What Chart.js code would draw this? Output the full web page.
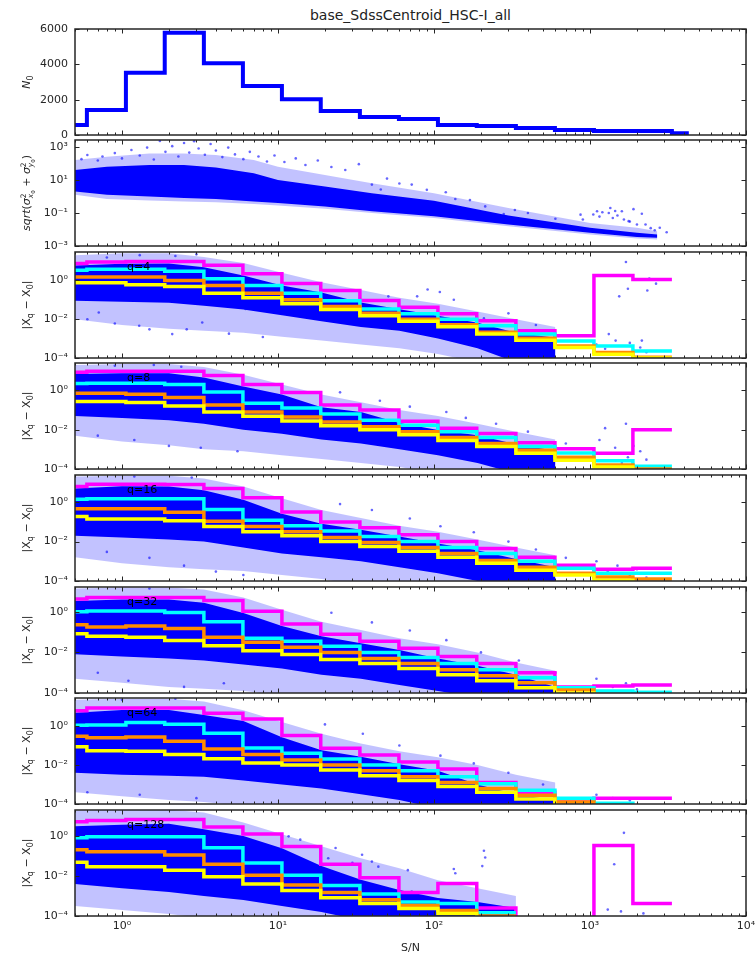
<!DOCTYPE html>
<html>
<head>
<meta charset="utf-8">
<title>base_SdssCentroid_HSC-I_all</title>
<script src="https://cdn.jsdelivr.net/npm/chart.js@4.4.1/dist/chart.umd.min.js"></script>
<style>
  html,body{margin:0;padding:0;background:#fff;}
  #wrap{position:relative;width:756px;height:960px;overflow:hidden;background:#fff;}
  #wrap canvas{position:absolute;left:0;}
  #title{position:absolute;left:75px;width:671px;top:6px;line-height:18px;text-align:center;
         font-family:"DejaVu Sans",sans-serif;font-size:14px;color:#222;}
</style>
</head>
<body>
<div id="wrap"><div id="title">base_SdssCentroid_HSC-I_all</div></div>
<script>
// ===================== DATA =====================
// shared x axis (S/N)
const xTickValues = [1, 10, 100, 1000, 10000];
const xTickLabels = ['10⁰', '10¹', '10²', '10³', '10⁴'];

// panel 1 : N0 histogram
const histEdges = [0.5, 0.596, 1.06, 1.88, 3.35, 5.96, 10.6, 18.8, 33.5, 59.6, 106, 188, 335, 596, 1060, 1884, 3350, 4300];
const N0 = [570, 1410, 3530, 5790, 4060, 2770, 2020, 1360, 1020, 910, 570, 510, 400, 280, 230, 230, 95];
const nTickValues = [0, 2000, 4000, 6000];
const nTickLabels = ['0', '2000', '4000', '6000'];

// panel 2 : sqrt(sigma_x0^2 + sigma_y0^2) cloud
const sigTickValues = [1e-3, 1e-1, 1e1, 1e3];
const sigTickLabels = ['10⁻³', '10⁻¹', '10¹', '10³'];
const sigBandX  = [0.5, 0.8, 1.5, 2.5, 4, 7, 10, 20, 40, 100, 300, 1000, 2000, 2700];
const sigCoreHi = [40, 63, 79, 79, 56, 25, 10, 4.0, 1.58, 0.54, 0.071, 0.0126, 6.3e-3, 5.0e-3];
const sigCoreLo = [2.0, 1.26, 1.0, 0.79, 0.71, 0.50, 0.40, 0.25, 0.126, 0.063, 0.020, 6.3e-3, 3.5e-3, 3.2e-3];
const sigHaloHi = [158, 251, 398, 398, 316, 158, 63, 20, 6.3, 1.58, 0.20, 0.025, 0.0126, 7.9e-3];
const sigHaloLo = [1.26, 0.71, 0.56, 0.50, 0.45, 0.35, 0.28, 0.178, 0.10, 0.050, 0.0158, 5.0e-3, 2.8e-3, 2.5e-3];
const sigPoints = [[0.55,180],[0.6,320],[0.7,150],[0.75,260],[0.9,420],[1.0,200],[1.15,650],[1.3,300],[1.45,900],[1.6,170],
  [1.75,2300],[1.9,500],[2.1,1100],[2.3,260],[2.5,1700],[2.7,450],[2.9,2200],[3.1,800],[3.4,330],[3.7,1500],[4.0,600],
  [4.4,240],[4.8,900],[5.3,350],[6.0,180],[6.6,500],[7.5,260],[8.5,130],[9.5,300],[11,120],[13,200],[15,80],[18,150],
  [22,60],[27,40],[33,90],[40,5.2],[45.6,2.6],[50,12],[60,6],[72,5.2],[90,2.5],[119,1.8],[137,0.7],[170,0.6],[213,0.25],
  [280,0.087],[330,0.15],[400,0.1],[600,0.045],[870,0.079],[900,0.04],[1050,0.08],[1110,0.126],[1150,0.06],[1200,0.11],
  [1320,0.1],[1350,0.2],[1400,0.05],[1450,0.13],[1500,0.07],[1600,0.126],[1650,0.04],[1770,0.032],[1800,0.03],
  [1900,0.17],[2000,0.02],[2150,0.09],[2270,0.02],[2450,0.012],[2600,0.009],[2800,0.0126],[3100,6.8e-3]];
const sigYMax = 2600;

// panels 3-8 : |Xq - X0|
const qTickValues = [1e-4, 1e-2, 1];
const qTickLabels = ['10⁻⁴', '10⁻²', '10⁰'];
const qLabels = ['q=4', 'q=8', 'q=16', 'q=32', 'q=64', 'q=128'];
const qYMax = [29, 25, 24, 16.6, 27, 21];
const binEdges = [0.5, 0.596, 1.06, 1.88, 3.35, 5.96, 10.6, 18.8, 33.5, 59.6, 106, 188, 335, 596, 1060, 1884, 3350];
const qBandX = [0.5, 1, 2, 3.35, 6, 10.6, 19, 34, 60, 106, 190, 335, 600];

// q = 4
const q4Magenta = [7.4, 8.9, 9.3, 9.3, 6.0, 2.2, 0.69, 0.30, 0.091, 0.041, 0.019, 8.3e-3, 2.5e-3, 1.4e-3, 1.8, 1.1];
const q4Cyan    = [3.3, 3.7, 3.7, 2.95, 1.23, 0.55, 0.22, 0.089, 0.034, 0.019, 0.010, 4.6e-3, 1.7e-3, 7.6e-4, 4.2e-4, 2.3e-4];
const q4Orange  = [1.48, 1.48, 1.48, 1.0, 0.55, 0.22, 0.10, 0.045, 0.020, 0.010, 5.1e-3, 2.1e-3, 1.05e-3, 4.2e-4, 1.9e-4, 1.1e-4];
const q4Yellow  = [0.76, 0.76, 0.60, 0.49, 0.22, 0.126, 0.063, 0.032, 0.015, 7.8e-3, 4.1e-3, 1.7e-3, 8.3e-4, 3.5e-4, 1.55e-4, 1.0e-4];
const q4CoreHi  = [5.9, 7.1, 7.4, 4.8, 1.8, 0.55, 0.24, 0.073, 0.033, 0.015, 6.6e-3, 2.0e-3, 1.1e-3];
const q4CoreLo  = [0.09, 0.08, 0.07, 0.050, 0.032, 0.016, 7.9e-3, 4.0e-3, 2.5e-3, 1.0e-3, 3.2e-4, 6e-5, 6e-5];
const q4HaloHi  = [20, 25, 25, 15.8, 7.9, 2.5, 0.79, 0.32, 0.126, 0.063, 0.025, 0.010, 4.0e-3];
const q4HaloLo  = [0.010, 5.0e-3, 3.2e-3, 2.5e-3, 2.0e-3, 1.26e-3, 7.9e-4, 5.0e-4, 3.2e-4, 1.6e-4, 6e-5, 6e-5, 6e-5];
const q4Points  = [[0.6,0.01],[0.71,0.022],[0.9,6e-3],[1.29,4.6e-3],[1.5,3e-3],[2.1,1.7e-3],[2.6,3e-3],[3.27,6.8e-3],
  [4.85,1.8e-3],[6.2,0.034],[8,1.2e-3],[0.8,15],[1.3,20],[2.2,18],[3.0,22],[51,0.15],[78,0.15],[91,0.34],[109,0.25],
  [134,0.10],[209,0.011],[300,0.02],[450,5e-3],[700,1.5e-3],[1100,5e-4],[1250,3e-4],[1320,1.7e-3],[1460,7.9e-4],
  [1540,0.15],[1600,1.5e-4],[1700,8.9],[1750,0.37],[1800,6e-4],[2100,3.5e-4],[2150,7.9e-4],[2300,2e-4],[2330,0.30],
  [2400,1.26],[2650,0.68]];

// q = 8
const q8Magenta = [8.5, 9.5, 9.5, 9.5, 5.8, 2.0, 0.79, 0.18, 0.10, 0.027, 0.012, 6.5e-3, 2.2e-3, 1.07e-3, 6.3e-4, 0.010];
const q8Cyan    = [2.24, 2.3, 2.3, 2.0, 0.83, 0.22, 0.126, 0.063, 0.030, 0.017, 7.9e-3, 4.0e-3, 1.4e-3, 6.6e-4, 2.6e-4, 1.4e-4];
const q8Orange  = [0.72, 0.72, 0.65, 0.44, 0.18, 0.081, 0.045, 0.025, 0.014, 7.9e-3, 4.0e-3, 2.0e-3, 8.9e-4, 4.0e-4, 1.6e-4, 1.0e-4];
const q8Yellow  = [0.27, 0.27, 0.24, 0.16, 0.081, 0.049, 0.028, 0.016, 0.010, 5.6e-3, 2.8e-3, 1.4e-3, 6.3e-4, 2.8e-4, 1.26e-4, 8e-5];
const q8CoreHi  = [6.8, 7.6, 7.6, 4.6, 1.6, 0.63, 0.14, 0.08, 0.022, 9.6e-3, 5.2e-3, 1.8e-3, 8.6e-4];
const q8CoreLo  = [0.05, 0.04, 0.03, 0.020, 0.010, 6.3e-3, 3.2e-3, 2.0e-3, 1.0e-3, 5.0e-4, 2.0e-4, 6e-5, 6e-5];
const q8HaloHi  = [20, 22, 22, 15.8, 6.3, 2.0, 0.63, 0.25, 0.10, 0.050, 0.020, 7.9e-3, 3.2e-3];
const q8HaloLo  = [5.0e-3, 2.5e-3, 1.6e-3, 1.0e-3, 7.9e-4, 5.0e-4, 3.2e-4, 2.0e-4, 1.26e-4, 6e-5, 6e-5, 6e-5, 6e-5];
const q8Points  = [[0.7,5e-3],[1.2,3e-3],[2.0,1.5e-3],[3.2,1.2e-3],[5.5,8e-4],[0.9,18],[1.6,20],[2.4,16],[25,0.8],
  [45,0.3],[70,0.15],[120,0.08],[160,0.04],[250,0.02],[400,8e-3],[700,2e-3],[1150,3e-3],[1250,0.012],[1300,6e-4],
  [1450,1.2e-3],[1600,2e-4],[1700,0.02],[1750,4e-4],[1900,1.5e-3],[2100,8e-4],[2300,3e-4]];

// q = 16
const q16Magenta = [6.2, 8.1, 8.1, 7.9, 5.0, 1.66, 0.32, 0.10, 0.050, 0.022, 0.010, 4.5e-3, 1.6e-3, 6.3e-4, 4.0e-4, 4.5e-4];
const q16Cyan    = [1.41, 1.48, 1.48, 1.48, 0.43, 0.12, 0.063, 0.035, 0.018, 0.010, 5.0e-3, 2.5e-3, 1.0e-3, 4.5e-4, 2.5e-4, 2.5e-4];
const q16Orange  = [0.46, 0.46, 0.46, 0.31, 0.107, 0.059, 0.032, 0.016, 8.9e-3, 5.0e-3, 2.5e-3, 1.1e-3, 5.0e-4, 2.5e-4, 1.6e-4, 1.26e-4];
const q16Yellow  = [0.19, 0.141, 0.141, 0.115, 0.059, 0.032, 0.020, 0.010, 5.6e-3, 3.2e-3, 1.6e-3, 7.9e-4, 3.5e-4, 2.0e-4, 1.1e-4, 8e-5];
const q16CoreHi  = [5.0, 6.5, 6.3, 4.0, 1.33, 0.26, 0.08, 0.04, 0.018, 8e-3, 3.6e-3, 1.3e-3, 5e-4];
const q16CoreLo  = [0.02, 0.016, 0.0126, 0.010, 5.0e-3, 2.5e-3, 1.6e-3, 1.0e-3, 5.0e-4, 2.5e-4, 1.0e-4, 6e-5, 6e-5];
const q16HaloHi  = [20, 22, 22, 15.8, 6.3, 1.58, 0.40, 0.158, 0.063, 0.032, 0.0126, 5.0e-3, 2.0e-3];
const q16HaloLo  = [1.6e-3, 7.9e-4, 5.0e-4, 4.0e-4, 3.2e-4, 2.0e-4, 1.26e-4, 6e-5, 6e-5, 6e-5, 6e-5, 6e-5, 6e-5];
const q16Points  = [[0.8,3e-3],[1.5,1.5e-3],[2.5,6e-4],[4,3e-4],[6,2e-4],[1.2,20],[2.8,18],[25,0.8],[40,0.4],[70,0.15],
  [110,0.06],[180,0.03],[300,0.01],[450,4e-3],[700,1.5e-3],[1100,1e-3],[1300,3e-4],[1500,6e-4],[1800,2e-4],[2000,4e-4],[2300,1.5e-4]];

// q = 32
const q32Magenta = [4.3, 5.0, 5.0, 5.0, 3.55, 1.07, 0.25, 0.079, 0.035, 0.016, 6.3e-3, 2.8e-3, 1.0e-3, 2.0e-4, 2.2e-4, 2.5e-4];
const q32Cyan    = [1.0, 1.1, 1.1, 0.93, 0.32, 0.050, 0.035, 0.020, 0.010, 5.6e-3, 2.8e-3, 1.4e-3, 5.6e-4, 1.8e-4, 1.26e-4, 1.1e-4];
const q32Orange  = [0.23, 0.18, 0.20, 0.148, 0.056, 0.032, 0.018, 0.010, 5.0e-3, 2.8e-3, 1.4e-3, 7.1e-4, 3.2e-4, 1.4e-4, 8e-5, 6e-5];
const q32Yellow  = [0.083, 0.063, 0.056, 0.038, 0.021, 0.012, 7.9e-3, 4.5e-3, 2.8e-3, 1.6e-3, 7.9e-4, 4.0e-4, 1.8e-4, 1.0e-4, 6e-5, 5e-5];
const q32CoreHi  = [3.4, 4.0, 4.0, 2.8, 0.86, 0.2, 0.063, 0.028, 0.013, 5e-3, 2.2e-3, 8e-4, 2e-4];
const q32CoreLo  = [0.008, 6.3e-3, 5.0e-3, 4.0e-3, 2.5e-3, 1.6e-3, 7.9e-4, 5.0e-4, 2.5e-4, 1.26e-4, 6e-5, 6e-5, 6e-5];
const q32HaloHi  = [14, 15.8, 15.8, 12.6, 5.0, 1.26, 0.32, 0.126, 0.050, 0.025, 0.010, 3.2e-3, 1.26e-3];
const q32HaloLo  = [5.0e-4, 3.2e-4, 2.0e-4, 1.6e-4, 1.26e-4, 7.9e-5, 6e-5, 6e-5, 6e-5, 6e-5, 6e-5, 6e-5, 6e-5];
const q32Points  = [[0.7,1e-3],[1.1,4e-4],[2.5,2e-4],[4.5,3e-4],[1.5,14],[22,0.9],[40,0.3],[70,0.12],[120,0.04],
  [200,0.01],[350,4e-3],[600,1e-3],[1100,5e-4],[1400,2e-4],[1700,3e-4],[2000,1.5e-4]];

// q = 64
const q64Magenta = [6.0, 8.3, 8.3, 8.3, 4.5, 2.24, 0.32, 0.071, 0.032, 0.014, 6.3e-3, 1.26e-3, 4.0e-4, 1.8e-4, 2.0e-4, 2.0e-4];
const q64Cyan    = [1.1, 1.12, 1.5, 1.23, 0.42, 0.074, 0.040, 0.020, 0.010, 5.0e-3, 2.5e-3, 1.1e-3, 5.0e-4, 2.0e-4, 1.1e-4, 8e-5];
const q64Orange  = [0.30, 0.25, 0.27, 0.166, 0.066, 0.034, 0.018, 0.010, 5.0e-3, 2.5e-3, 1.26e-3, 6.3e-4, 2.8e-4, 1.26e-4, 6e-5, 5e-5];
const q64Yellow  = [0.085, 0.054, 0.050, 0.034, 0.021, 0.0126, 0.010, 5.6e-3, 2.8e-3, 1.6e-3, 7.9e-4, 4.0e-4, 1.8e-4, 8e-5, 5e-5, 4e-5];
const q64CoreHi  = [4.8, 6.6, 6.6, 3.6, 1.8, 0.26, 0.057, 0.026, 0.011, 5e-3, 1.0e-3, 3.2e-4, 1.5e-4];
const q64CoreLo  = [4.0e-3, 3.2e-3, 2.8e-3, 2.5e-3, 1.6e-3, 1.0e-3, 6.3e-4, 3.2e-4, 1.6e-4, 6e-5, 6e-5, 6e-5, 6e-5];
const q64HaloHi  = [22, 25, 25, 17.8, 6.3, 1.58, 0.40, 0.126, 0.050, 0.025, 0.010, 3.2e-3, 1.26e-3];
const q64HaloLo  = [4.0e-4, 2.5e-4, 1.6e-4, 1.26e-4, 7.9e-5, 6e-5, 6e-5, 6e-5, 6e-5, 6e-5, 6e-5, 6e-5, 6e-5];
const q64Points  = [[0.6,4e-4],[1.3,3e-4],[3,2e-4],[1.0,22],[2.2,25],[20,1.2],[35,0.4],[60,0.1],[110,0.03],[180,0.012],
  [300,4e-3],[500,1e-3],[1100,3e-4],[1400,2e-4],[1800,1.5e-4]];

// q = 128  (0 = empty bin, falls below the log axis)
const q128Magenta = [5.4, 6.3, 7.1, 7.1, 2.9, 1.32, 0.31, 0.040, 8.3e-3, 1.5e-3, 4.3e-3, 2.5e-4, 0, 0, 0.35, 4.2e-4];
const q128Cyan    = [0.85, 0.95, 0.95, 0.95, 0.27, 0.046, 0.011, 3.4e-3, 1.26e-3, 5.0e-4, 4.2e-4, 1.45e-4];
const q128Orange  = [0.21, 0.17, 0.17, 0.117, 0.040, 0.011, 3.6e-3, 1.5e-3, 6.6e-4, 3.4e-4, 1.9e-4, 1.0e-4];
const q128Yellow  = [0.050, 0.030, 0.030, 0.020, 9.3e-3, 4.0e-3, 1.9e-3, 8.3e-4, 4.3e-4, 2.4e-4, 1.35e-4, 8e-5];
const q128CoreHi  = [3.2, 3.8, 4.3, 2.3, 1.05, 0.25, 0.032, 6.6e-3, 2.0e-3, 8e-4, 5.0e-4, 2.5e-4];
const q128CoreLo  = [4.0e-3, 2.5e-3, 1.6e-3, 1.0e-3, 6.3e-4, 3.2e-4, 1.6e-4, 6e-5, 6e-5, 6e-5, 6e-5, 6e-5];
const q128HaloHi  = [20, 22, 22, 15.8, 5.0, 1.26, 0.32, 0.079, 0.025, 6.3e-3, 2.5e-3, 1.0e-3];
const q128HaloLo  = [3.2e-4, 2.0e-4, 1.26e-4, 7.9e-5, 6e-5, 6e-5, 6e-5, 6e-5, 6e-5, 6e-5, 6e-5, 6e-5];
const q128Points  = [[11.7,1.0],[13.9,0.68],[21,0.08],[23.4,0.26],[30,0.047],[34.6,0.118],[40,0.054],[44,0.030],
  [68,0.020],[72,1.7e-3],[134,0.023],[137,0.014],[204,0.032],[209,0.19],[213,0.087],[1300,2.1e-4],[1430,0.04],
  [1580,1.7e-4],[1650,1.5],[2200,1.35e-4]];

// ===================== STYLE / LAYOUT =====================
const FONT = '"DejaVu Sans", sans-serif';
const INK = '#262626';
const CORE = '#0000ff';
const HALO = 'rgba(0,0,255,0.24)';
const PT = 'rgba(0,0,255,0.6)';
const MAGENTA = '#ff00ff', CYAN = '#00ffff', ORANGE = '#ff8c00', YELLOW = '#ffff00';
const panelTops = [29, 140, 252, 363, 475, 587, 698, 810];
const PANEL_H = 106;
const PAD = 12;
const wrap = document.getElementById('wrap');

// x minor tick positions (axis decoration)
const xMinor = [];
[0.1, 1, 10, 100, 1000].forEach(d => { for (let m = 2; m <= 9; m++) { const v = m * d; if (v >= 0.5 && v < 10000) xMinor.push(v); } });

// ===================== HELPERS =====================
const toXY = (xs, ys) => ys.map((y, i) => ({x: xs[i], y}));
const pairs = arr => arr.map(p => ({x: p[0], y: p[1]}));
const FLOOR = 1e-9;
function stepXY(edges, vals) {
  const pts = vals.map((v, i) => ({x: edges[i], y: v > 0 ? v : FLOOR}));
  const lastV = vals[vals.length - 1];
  pts.push({x: edges[vals.length], y: lastV > 0 ? lastV : FLOOR});
  return pts;
}
const NONE = 'rgba(0,0,0,0)';
function bandHi(xs, ys, color, order) {
  return {type: 'line', data: toXY(xs, ys), fill: '+1', backgroundColor: color, borderColor: NONE,
          borderWidth: 0, pointRadius: 0, order, clip: 0};
}
function bandLo(xs, ys, order) {
  return {type: 'line', data: toXY(xs, ys), fill: false, borderColor: NONE, borderWidth: 0, pointRadius: 0, order, clip: 0};
}
function scatterSet(arr, order) {
  return {type: 'scatter', data: pairs(arr), pointRadius: 1.3, backgroundColor: PT, borderWidth: 0, order, clip: 0};
}
function stepSet(edges, vals, color, width, order) {
  return {type: 'line', data: stepXY(edges, vals), stepped: true, borderColor: color, borderWidth: width,
          pointRadius: 0, fill: false, order, clip: 0, borderJoinStyle: 'miter', borderCapStyle: 'butt'};
}

function drawRich(ctx, cx, cy, pieces) {
  const lay = []; let x = 0, mark = 0, maxX = 0;
  for (const p of pieces) {
    if (p.mark) { mark = x; maxX = x; continue; }
    if (p.ret) { maxX = Math.max(maxX, x); x = mark; continue; }
    if (p.fin) { x = Math.max(maxX, x); continue; }
    const font = (p.it ? 'italic ' : '') + p.s + 'px ' + FONT;
    ctx.font = font;
    lay.push({t: p.t, x, font, dy: p.dy || 0});
    x += ctx.measureText(p.t).width;
  }
  ctx.save();
  ctx.translate(cx, cy); ctx.rotate(-Math.PI / 2);
  ctx.fillStyle = INK; ctx.textAlign = 'left'; ctx.textBaseline = 'alphabetic';
  for (const l of lay) { ctx.font = l.font; ctx.fillText(l.t, l.x - x / 2, 4 + l.dy); }
  ctx.restore();
}

const titleN0 = [{t: 'N', it: 1, s: 11}, {t: '0', s: 8, dy: 2.5}];
const titleSig = [{t: 'sqrt', it: 1, s: 11}, {t: '(', s: 11}, {t: 'σ', it: 1, s: 11},
  {mark: 1}, {t: '2', s: 7.5, dy: -4.5}, {ret: 1}, {t: 'x', it: 1, s: 7.5, dy: 3}, {t: '0', s: 5.5, dy: 4.5}, {fin: 1},
  {t: ' + ', s: 11}, {t: 'σ', it: 1, s: 11},
  {mark: 1}, {t: '2', s: 7.5, dy: -4.5}, {ret: 1}, {t: 'y', it: 1, s: 7.5, dy: 3}, {t: '0', s: 5.5, dy: 4.5}, {fin: 1},
  {t: ')', s: 11}];
const titleQ = [{t: '|X', s: 11}, {t: 'q', s: 8, dy: 2.5}, {t: ' − X', s: 11}, {t: '0', s: 8, dy: 2.5}, {t: '|', s: 11}];

function decoPlugin(deco, last) {
  return {
    id: 'deco',
    afterDatasetsDraw(chart) {
      const {ctx, chartArea: a} = chart;
      const xs = chart.scales.x, ys = chart.scales.y;
      ctx.save();
      ctx.strokeStyle = INK; ctx.lineWidth = 1;
      ctx.beginPath();
      const tick = (v, L) => {
        const px = Math.round(xs.getPixelForValue(v)) + 0.5;
        ctx.moveTo(px, a.bottom); ctx.lineTo(px, a.bottom - L);
        ctx.moveTo(px, a.top); ctx.lineTo(px, a.top + L);
      };
      xTickValues.forEach(v => tick(v, 4.5));
      xMinor.forEach(v => tick(v, 2.5));
      deco.yTicks.forEach(v => {
        const py = Math.round(ys.getPixelForValue(v)) + 0.5;
        ctx.moveTo(a.left, py); ctx.lineTo(a.left + 4.5, py);
        ctx.moveTo(a.right, py); ctx.lineTo(a.right - 4.5, py);
      });
      ctx.stroke();
      ctx.lineWidth = 1.5;
      ctx.strokeRect(a.left, a.top, a.right - a.left, a.bottom - a.top);
      if (deco.q) {
        ctx.fillStyle = '#000'; ctx.font = '11px ' + FONT;
        ctx.textAlign = 'left'; ctx.textBaseline = 'middle';
        ctx.fillText(deco.q, a.left + 52, a.top + 15);
      }
      drawRich(ctx, 26, (a.top + a.bottom) / 2, deco.title);
      if (last) {
        ctx.fillStyle = INK; ctx.font = '11px ' + FONT;
        ctx.textAlign = 'center'; ctx.textBaseline = 'middle';
        ctx.fillText('S/N', (a.left + a.right) / 2, a.bottom + 32);
      }
      ctx.restore();
    }
  };
}

function xScaleCfg(show) {
  return {
    type: 'logarithmic', min: 0.5, max: 10000, display: show,
    afterBuildTicks: ax => { ax.ticks = xTickValues.map(v => ({value: v})); },
    ticks: {callback: v => xTickLabels[xTickValues.indexOf(v)], font: {family: FONT, size: 11}, color: INK,
            padding: 4, maxRotation: 0, autoSkip: false},
    grid: {display: false, drawTicks: false}, border: {display: false},
    afterFit: ax => { ax.height = show ? 44 : 0; ax.paddingLeft = 0; ax.paddingRight = 0; }
  };
}
function yScaleCfg(type, min, max, vals, labels) {
  return {
    type, min, max,
    afterBuildTicks: ax => { ax.ticks = vals.map(v => ({value: v})); },
    ticks: {callback: v => labels[vals.indexOf(v)], font: {family: FONT, size: 11}, color: INK, padding: 7, autoSkip: false},
    grid: {display: false, drawTicks: false}, border: {display: false},
    afterFit: ax => { ax.width = 75; ax.paddingTop = 0; ax.paddingBottom = 0; }
  };
}

function makePanel(idx, datasets, yCfg, deco) {
  const last = idx === panelTops.length - 1;
  const top = panelTops[idx] - PAD;
  const h = last ? 960 - top : PANEL_H + 2 * PAD;
  const cv = document.createElement('canvas');
  cv.width = 756; cv.height = h;
  cv.style.top = top + 'px'; cv.style.width = '756px'; cv.style.height = h + 'px';
  wrap.appendChild(cv);
  return new Chart(cv, {
    type: 'line',
    data: {datasets},
    options: {
      responsive: false, animation: false, devicePixelRatio: 1, events: [],
      layout: {padding: {top: PAD, bottom: last ? 0 : PAD, left: 0, right: 10}},
      plugins: {legend: {display: false}, tooltip: {enabled: false}},
      elements: {line: {tension: 0}},
      scales: {x: xScaleCfg(last), y: yCfg}
    },
    plugins: [decoPlugin(deco, last)]
  });
}

// ===================== BUILD =====================
// panel 1
makePanel(0, [stepSet(histEdges, N0, CORE, 4, 1)],
  yScaleCfg('linear', 0, 6000, nTickValues, nTickLabels),
  {yTicks: nTickValues, title: titleN0});

// panel 2
makePanel(1, [
    bandHi(sigBandX, sigHaloHi, HALO, 30), bandLo(sigBandX, sigHaloLo, 30),
    bandHi(sigBandX, sigCoreHi, CORE, 29), bandLo(sigBandX, sigCoreLo, 29),
    scatterSet(sigPoints, 28)
  ],
  yScaleCfg('logarithmic', 1e-3, sigYMax, sigTickValues, sigTickLabels),
  {yTicks: sigTickValues, title: titleSig});

// panels 3-8
const qPanels = [
  {m: q4Magenta, c: q4Cyan, o: q4Orange, y: q4Yellow, ch: q4CoreHi, cl: q4CoreLo, hh: q4HaloHi, hl: q4HaloLo, p: q4Points},
  {m: q8Magenta, c: q8Cyan, o: q8Orange, y: q8Yellow, ch: q8CoreHi, cl: q8CoreLo, hh: q8HaloHi, hl: q8HaloLo, p: q8Points},
  {m: q16Magenta, c: q16Cyan, o: q16Orange, y: q16Yellow, ch: q16CoreHi, cl: q16CoreLo, hh: q16HaloHi, hl: q16HaloLo, p: q16Points},
  {m: q32Magenta, c: q32Cyan, o: q32Orange, y: q32Yellow, ch: q32CoreHi, cl: q32CoreLo, hh: q32HaloHi, hl: q32HaloLo, p: q32Points},
  {m: q64Magenta, c: q64Cyan, o: q64Orange, y: q64Yellow, ch: q64CoreHi, cl: q64CoreLo, hh: q64HaloHi, hl: q64HaloLo, p: q64Points},
  {m: q128Magenta, c: q128Cyan, o: q128Orange, y: q128Yellow, ch: q128CoreHi, cl: q128CoreLo, hh: q128HaloHi, hl: q128HaloLo, p: q128Points}
];
qPanels.forEach((q, i) => {
  makePanel(i + 2, [
      bandHi(qBandX, q.hh, HALO, 30), bandLo(qBandX, q.hl, 30),
      bandHi(qBandX, q.ch, CORE, 29), bandLo(qBandX, q.cl, 29),
      scatterSet(q.p, 28),
      stepSet(binEdges, q.m, MAGENTA, 3.5, 4),
      stepSet(binEdges, q.c, CYAN, 3.5, 3),
      stepSet(binEdges, q.o, ORANGE, 3.5, 2),
      stepSet(binEdges, q.y, YELLOW, 3.5, 1)
    ],
    yScaleCfg('logarithmic', 1e-4, qYMax[i], qTickValues, qTickLabels),
    {yTicks: qTickValues, title: titleQ, q: qLabels[i]});
});
</script>
</body>
</html>
